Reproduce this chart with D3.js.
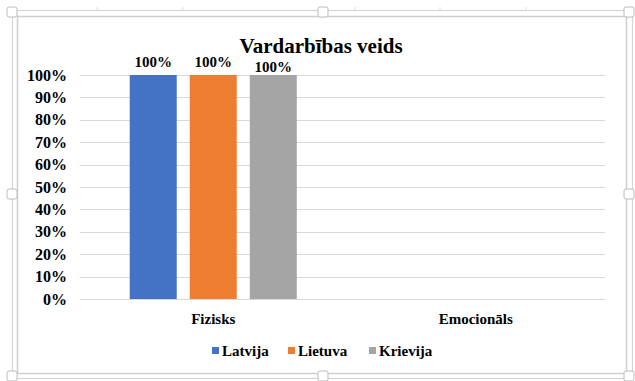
<!DOCTYPE html>
<html>
<head>
<meta charset="utf-8">
<script src="https://cdn.jsdelivr.net/npm/d3@7"></script>
<style>
  html, body { margin: 0; padding: 0; background: #fff; }
  svg { display: block; }
</style>
</head>
<body>
<svg id="chart" width="635" height="381" font-family="'Liberation Serif', 'Times New Roman', serif" font-weight="bold"></svg>
<script>
// Share of cases by type of violence, per country
const categories = ["Fizisks", "Emocionāls"];
const seriesNames = ["Latvija", "Lietuva", "Krievija"];
const latvija = [1.0, null];
const lietuva = [1.0, null];
const krievija = [1.0, null];
const seriesValues = [latvija, lietuva, krievija];
const colors = ["#4472C4", "#ED7D31", "#A5A5A5"];
const yTicks = [0, 0.1, 0.2, 0.3, 0.4, 0.5, 0.6, 0.7, 0.8, 0.9, 1.0];
const title = "Vardarbības veids";

const FONT = "'Liberation Serif', 'Times New Roman', serif";
const svg = d3.select("#chart");
const W = 635, H = 381;

// Window frame: double border with selection handles
const frame = svg.append("g");
frame.append("rect").attr("x", 12.5).attr("y", 10.5).attr("width", 620).attr("height", 368)
  .attr("fill", "none").attr("stroke", "#d6d6d6").attr("stroke-width", 1.2);
frame.append("rect").attr("x", 17.5).attr("y", 16.5).attr("width", 609).attr("height", 357)
  .attr("fill", "#fff").attr("stroke", "#cfcfcf").attr("stroke-width", 1.5);
// ruler ticks along the top
[97, 183, 355, 440, 526].forEach(x => {
  frame.append("line").attr("x1", x).attr("x2", x).attr("y1", 7).attr("y2", 11)
    .attr("stroke", "#ddd");
});
const handles = [[12, 12], [323, 12], [629, 12], [12, 194], [629, 194], [12, 376], [323, 376], [629, 376]];
handles.forEach(([x, y]) => {
  frame.append("rect").attr("x", x - 5).attr("y", y - 5).attr("width", 10).attr("height", 10)
    .attr("rx", 2).attr("fill", "#fff").attr("stroke", "#bdbdbd").attr("stroke-width", 1);
});

const margin = { left: 82, right: 28, top: 75, bottom: 82 };
const x0 = d3.scaleBand().domain(categories).range([margin.left, W - margin.right]).paddingInner(0).paddingOuter(0);
const x1 = d3.scaleBand().domain(seriesNames).range([0, x0.bandwidth()]).paddingInner(0.217).paddingOuter(0.795);
const y = d3.scaleLinear().domain([0, 1]).range([H - margin.bottom, margin.top]);

// Gridlines
svg.append("g").selectAll("line").data(yTicks).join("line")
  .attr("x1", margin.left - 2).attr("x2", W - margin.right - 2)
  .attr("y1", d => Math.round(y(d)) + 0.5).attr("y2", d => Math.round(y(d)) + 0.5)
  .attr("stroke", "#d9d9d9").attr("stroke-width", 1);

// Y axis labels
const yAxis = d3.axisLeft(y).tickValues(yTicks).tickFormat(d3.format(".0%")).tickSize(0).tickPadding(13);
const yg = svg.append("g").attr("transform", `translate(${margin.left - 2},0)`).call(yAxis);
yg.attr("font-family", FONT).attr("font-size", 16).attr("font-weight", "bold");
yg.select(".domain").remove();
yg.selectAll("text").attr("fill", "#000");

// X axis labels
const xAxis = d3.axisBottom(x0).tickSize(0).tickPadding(14);
const xg = svg.append("g").attr("transform", `translate(0,${H - margin.bottom})`).call(xAxis);
xg.attr("font-family", FONT).attr("font-size", 15).attr("font-weight", "bold");
xg.select(".domain").remove();
xg.selectAll("text").attr("fill", "#000");

// Bars
const rows = [];
categories.forEach((c, ci) => {
  seriesNames.forEach((s, si) => {
    const v = seriesValues[si][ci];
    if (v != null) rows.push({ c, s, si, v });
  });
});
svg.append("g").selectAll("rect").data(rows).join("rect")
  .attr("x", d => x0(d.c) + x1(d.s))
  .attr("y", d => y(d.v))
  .attr("width", x1.bandwidth())
  .attr("height", d => y(0) - y(d.v))
  .attr("fill", d => colors[d.si]);

// Value labels
const labelShift = [0, 0, 5];
svg.append("g").attr("font-size", 15).attr("font-family", FONT).attr("font-weight", "bold")
  .selectAll("text").data(rows).join("text")
  .attr("x", d => x0(d.c) + x1(d.s) + x1.bandwidth() / 2)
  .attr("y", d => y(d.v) - 8 + labelShift[d.si])
  .attr("text-anchor", "middle")
  .text(d => d3.format(".0%")(d.v));

// Title
svg.append("text").attr("x", 321).attr("y", 53).attr("text-anchor", "middle")
  .attr("font-size", 21).attr("font-family", FONT).attr("font-weight", "bold").text(title);

// Legend
const legend = svg.append("g").attr("font-family", FONT).attr("font-size", 15).attr("font-weight", "bold");
const legendX = [212, 288, 369];
seriesNames.forEach((s, i) => {
  const g = legend.append("g").attr("transform", `translate(${legendX[i]},356)`);
  g.append("rect").attr("x", 0).attr("y", -9).attr("width", 7).attr("height", 7).attr("fill", colors[i]);
  g.append("text").attr("x", 10).attr("y", 0).text(s);
});
</script>
</body>
</html>
